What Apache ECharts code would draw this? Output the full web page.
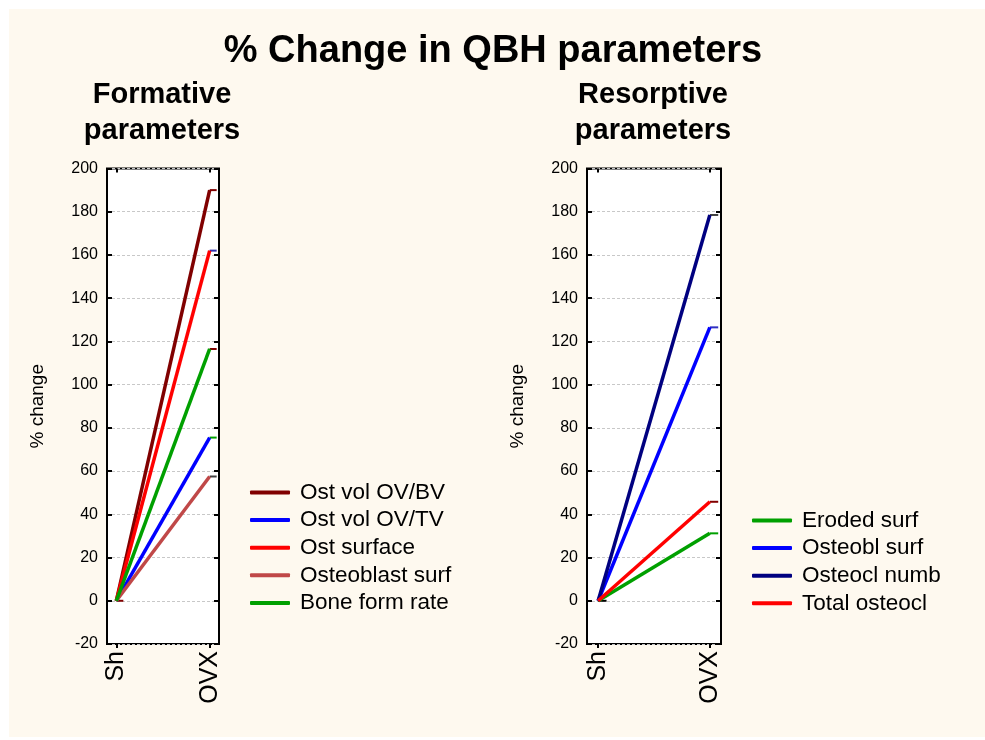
<!DOCTYPE html>
<html>
<head>
<meta charset="utf-8">
<script src="https://cdn.jsdelivr.net/npm/echarts@6/dist/echarts.min.js"></script>
<style>
html,body{margin:0;padding:0;background:#fff;}
#c{width:985px;height:740px;}
</style>
</head>
<body>
<div id="c"></div>
<script>
// ---- data ----
var categories = ['Sh', 'OVX'];
var yTicks = [-20, 0, 20, 40, 60, 80, 100, 120, 140, 160, 180, 200];

var formNames = ['Ost vol OV/BV', 'Ost vol OV/TV', 'Ost surface', 'Osteoblast surf', 'Bone form rate'];
var ostVolOVBV = [0, 190];
var ostVolOVTV = [0, 75.5];
var ostSurface = [0, 162];
var osteoblastSurf = [0, 57.5];
var boneFormRate = [0, 116.5];

var resNames = ['Eroded surf', 'Osteobl surf', 'Osteocl numb', 'Total osteocl'];
var erodedSurf = [0, 31.2];
var osteoblSurf = [0, 126.5];
var osteoclNumb = [0, 178.5];
var totalOsteocl = [0, 45.8];

// ---- styles ----
var formColors = ['#800000', '#0000ff', '#ff0000', '#c04848', '#00a000'];
var resColors = ['#00a000', '#0000ff', '#000080', '#ff0000'];
var formStubColors = ['#800000', '#00a000', '#3030b0', '#404040', '#800000'];
var resStubColors = ['#00a000', '#3030c0', '#404040', '#800000'];

var FONT = '"Liberation Sans", Arial, sans-serif';

var formData = [ostVolOVBV, ostVolOVTV, ostSurface, osteoblastSurf, boneFormRate];
var resData = [erodedSurf, osteoblSurf, osteoclNumb, totalOsteocl];

function toXY(arr) { return arr.map(function (v, i) { return [i, v]; }); }

function yAxisPair(gi) {
  var base = {
    gridIndex: gi, type: 'value', min: yTicks[0], max: yTicks[yTicks.length - 1], interval: 20,
    axisLine: { show: false, onZero: false }
  };
  return [
    Object.assign({}, base, {
      position: 'left',
      name: '% change', nameLocation: 'middle', nameGap: 60, nameRotate: 90,
      nameTextStyle: { fontFamily: FONT, fontSize: 19, color: '#000' },
      axisTick: { show: true, inside: true, length: 5, lineStyle: { color: '#000', width: 2 } },
      axisLabel: { fontFamily: FONT, fontSize: 16, color: '#000', margin: 9 },
      splitLine: { show: true, lineStyle: { color: '#c8c8c8', type: [3, 2], width: 1 } }
    }),
    Object.assign({}, base, {
      position: 'right',
      axisTick: { show: true, inside: true, length: 5, lineStyle: { color: '#000', width: 2 } },
      axisLabel: { show: false },
      splitLine: { show: false }
    })
  ];
}

function xAxisPair(gi) {
  var base = { gridIndex: gi, type: 'value', min: -0.1, max: 1.1, axisLine: { show: false, onZero: false }, splitLine: { show: false } };
  return [
    Object.assign({}, base, {
      position: 'bottom',
      axisTick: { show: true, length: 4, customValues: [0, 1], lineStyle: { color: '#000', width: 2 } },
      axisLabel: {
        customValues: [0, 1], rotate: 90, fontFamily: FONT, fontSize: 25, color: '#000', margin: 7,
        formatter: function (v) { return categories[Math.round(v)] || ''; }
      }
    }),
    Object.assign({}, base, {
      position: 'top',
      axisTick: { show: true, inside: true, length: 4, customValues: [0, 1], lineStyle: { color: '#000', width: 2 } },
      axisLabel: { show: false }
    })
  ];
}

function stubSeries(gi, arrays, colors) {
  var d = [];
  arrays.forEach(function (a, k) { d.push([1, a[1], k]); });
  d.push([0, arrays[0][0], -1]);
  return {
    type: 'custom', xAxisIndex: gi * 2, yAxisIndex: gi * 2, silent: true, z: 1,
    data: d,
    renderItem: function (params, api) {
      var x = api.value(0), y = api.value(1), k = api.value(2);
      var p1 = api.coord([x, y]);
      var p2 = api.coord([x + 0.075, y]);
      var col = k < 0 ? (gi === 0 ? '#800000' : '#000') : colors[k];
      return { type: 'line', shape: { x1: p1[0], y1: p1[1], x2: p2[0], y2: p2[1] }, style: { stroke: col, lineWidth: 2 } };
    }
  };
}

var series = [];
formNames.forEach(function (n, i) {
  series.push({ name: n, type: 'line', xAxisIndex: 0, yAxisIndex: 0, data: toXY(formData[i]),
    showSymbol: false, symbol: 'none', lineStyle: { color: formColors[i], width: 3.5 }, itemStyle: { color: formColors[i] }, z: 3 });
});
resNames.forEach(function (n, i) {
  series.push({ name: n, type: 'line', xAxisIndex: 2, yAxisIndex: 2, data: toXY(resData[i]),
    showSymbol: false, symbol: 'none', lineStyle: { color: resColors[i], width: 3.5 }, itemStyle: { color: resColors[i] }, z: 3 });
});
series.push(stubSeries(0, formData, formStubColors));
series.push(stubSeries(1, resData, resStubColors));

var chart = echarts.init(document.getElementById('c'), null, { renderer: 'canvas' });
var legendText = { fontFamily: FONT, fontSize: 22.5, color: '#000', lineHeight: 22, padding: [0, 0, 0, 5] };
chart.setOption({
  animation: false,
  backgroundColor: '#ffffff',
  graphic: [{ type: 'rect', shape: { x: 9, y: 9, width: 976, height: 728 }, style: { fill: '#fef9ef' }, z: -10 }],
  title: [
    { text: '% Change in QBH parameters', left: 493, top: 33, padding: 0, textAlign: 'center',
      textStyle: { fontFamily: FONT, fontSize: 38, fontWeight: 'bold', color: '#000' } },
    { text: 'Formative\nparameters', left: 162, top: 76.5, padding: 0, textAlign: 'center',
      textStyle: { fontFamily: FONT, fontSize: 29, fontWeight: 'bold', color: '#000', lineHeight: 36 } },
    { text: 'Resorptive\nparameters', left: 653, top: 76.5, padding: 0, textAlign: 'center',
      textStyle: { fontFamily: FONT, fontSize: 29, fontWeight: 'bold', color: '#000', lineHeight: 36 } }
  ],
  grid: [
    { left: 107, top: 168.5, width: 112, height: 475.5, show: true, backgroundColor: '#fff', borderColor: '#000', borderWidth: 2 },
    { left: 587, top: 168.5, width: 134, height: 475.5, show: true, backgroundColor: '#fff', borderColor: '#000', borderWidth: 2 }
  ],
  xAxis: xAxisPair(0).concat(xAxisPair(1)),
  yAxis: yAxisPair(0).concat(yAxisPair(1)),
  legend: [
    { data: formNames, orient: 'vertical', left: 250, top: 481, padding: 0, itemWidth: 40, itemHeight: 4, itemGap: 4.6,
      icon: 'roundRect', textStyle: legendText, selectedMode: false },
    { data: resNames, orient: 'vertical', left: 752, top: 509, padding: 0, itemWidth: 40, itemHeight: 4, itemGap: 4.6,
      icon: 'roundRect', textStyle: legendText, selectedMode: false }
  ],
  series: series
});
</script>
</body>
</html>
